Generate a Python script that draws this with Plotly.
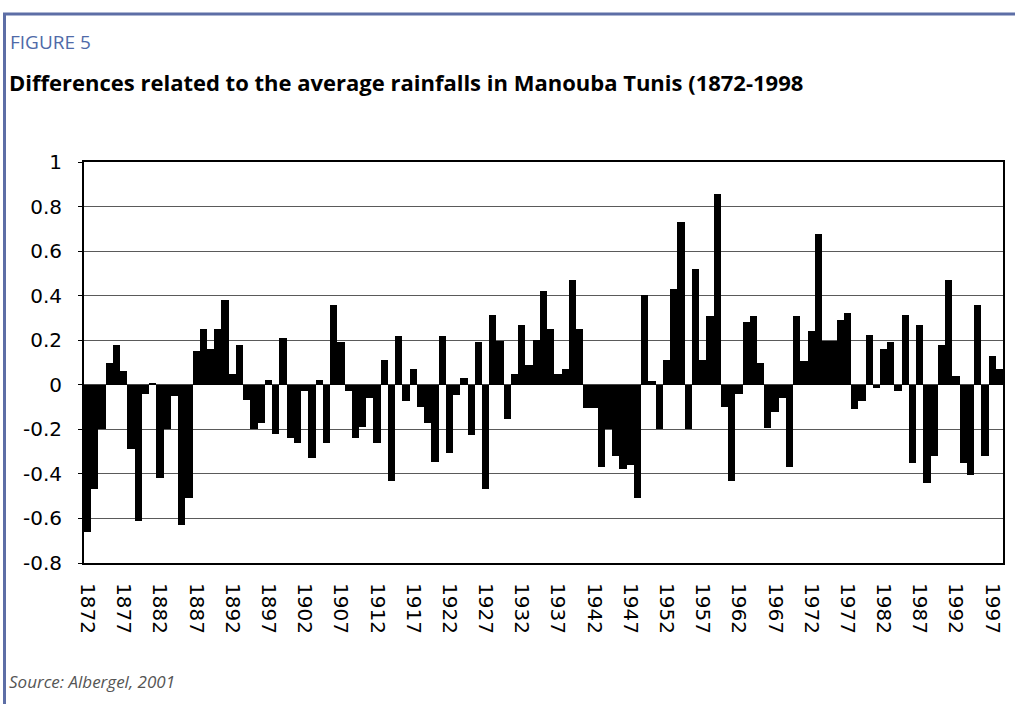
import plotly.graph_objects as go

years = list(range(1872, 1999))
values = [
    -0.66, -0.47, -0.20, 0.10, 0.18, 0.06, -0.29, -0.61, -0.04, 0.01,
    -0.42, -0.20, -0.05, -0.63, -0.51, 0.15, 0.25, 0.16, 0.25, 0.38,
    0.05, 0.18, -0.07, -0.20, -0.17, 0.02, -0.22, 0.21, -0.24, -0.26,
    -0.03, -0.33, 0.02, -0.26, 0.36, 0.19, -0.03, -0.24, -0.19, -0.06,
    -0.26, 0.11, -0.43, 0.22, -0.075, 0.07, -0.10, -0.17, -0.345, 0.22,
    -0.305, -0.045, 0.03, -0.225, 0.19, -0.47, 0.315, 0.195, -0.155, 0.05,
    0.27, 0.09, 0.20, 0.42, 0.25, 0.05, 0.07, 0.47, 0.25, -0.105,
    -0.105, -0.37, -0.20, -0.32, -0.38, -0.36, -0.51, 0.405, 0.015, -0.20,
    0.11, 0.43, 0.73, -0.20, 0.52, 0.11, 0.31, 0.855, -0.10, -0.43,
    -0.04, 0.28, 0.31, 0.10, -0.195, -0.12, -0.06, -0.37, 0.31, 0.105,
    0.24, 0.675, 0.195, 0.195, 0.29, 0.32, -0.11, -0.075, 0.225, -0.015,
    0.16, 0.19, -0.03, 0.315, -0.35, 0.27, -0.44, -0.32, 0.18, 0.47,
    0.04, -0.35, -0.405, 0.36, -0.32, 0.13, 0.07,
]
x_tick_years = list(range(1872, 1998, 5))
y_tick_vals = [-0.8, -0.6, -0.4, -0.2, 0, 0.2, 0.4, 0.6, 0.8, 1]
y_tick_text = ["-0.8", "-0.6", "-0.4", "-0.2", "0", "0.2", "0.4", "0.6", "0.8", "1"]

fig = go.Figure(go.Bar(x=years, y=values, marker=dict(color="black", line=dict(width=0))))

L, R, T, B = 84, 12, 162, 141
W, H = 1015, 704
pw, ph = W - L - R, H - T - B

def px(x):
    return (x - L) / pw

def py(y):
    return (H - B - y) / ph

frame = "#5d6ea6"
fig.add_shape(type="line", xref="paper", yref="paper", x0=px(3), x1=px(1015), y0=py(14), y1=py(14),
              line=dict(color=frame, width=3))
fig.add_shape(type="line", xref="paper", yref="paper", x0=px(4.5), x1=px(4.5), y0=py(14), y1=py(704),
              line=dict(color=frame, width=3))

fig.add_annotation(text="FIGURE 5", xref="paper", yref="paper", x=px(8), y=py(42), xanchor="left",
                   yanchor="middle", showarrow=False, font=dict(family="Open Sans", size=19, color="#4f6aa8"))
fig.add_annotation(text="<b>Differences related to the average rainfalls in Manouba Tunis (1872-1998</b>",
                   xref="paper", yref="paper", x=px(7), y=py(82), xanchor="left", yanchor="middle",
                   showarrow=False, font=dict(family="Open Sans", size=22, color="black"))
fig.add_annotation(text="<i>Source: Albergel, 2001</i>", xref="paper", yref="paper", x=px(7), y=py(681),
                   xanchor="left", yanchor="middle", showarrow=False,
                   font=dict(family="Open Sans", size=17, color="#555555"))

fig.update_layout(
    width=W, height=H,
    margin=dict(l=L, r=R, t=T, b=B, autoexpand=False),
    paper_bgcolor="white", plot_bgcolor="white",
    bargap=0.0, showlegend=False,
    font=dict(family="DejaVu Sans", color="black"),
)
fig.update_xaxes(range=[1871.5, 1998.5], tickvals=x_tick_years, tickangle=90,
                 tickfont=dict(size=20, family="DejaVu Sans", color="black"),
                 showgrid=False, showline=True, mirror=True, linecolor="black", linewidth=2,
                 ticks="", ticklabelstandoff=14)
fig.update_yaxes(range=[-0.8, 1], tickvals=y_tick_vals, ticktext=y_tick_text,
                 tickfont=dict(size=20, family="DejaVu Sans", color="black"),
                 showgrid=True, gridcolor="#5a5a5a", gridwidth=1.3,
                 zeroline=True, zerolinecolor="#444444", zerolinewidth=1.3,
                 showline=True, mirror=True, linecolor="black", linewidth=2,
                 ticks="outside", ticklen=4, tickcolor="black", ticklabelstandoff=12)

fig.write_html("out.html", config={"displayModeBar": False},
               post_script="document.body.style.margin='0';document.body.style.overflow='hidden';")
